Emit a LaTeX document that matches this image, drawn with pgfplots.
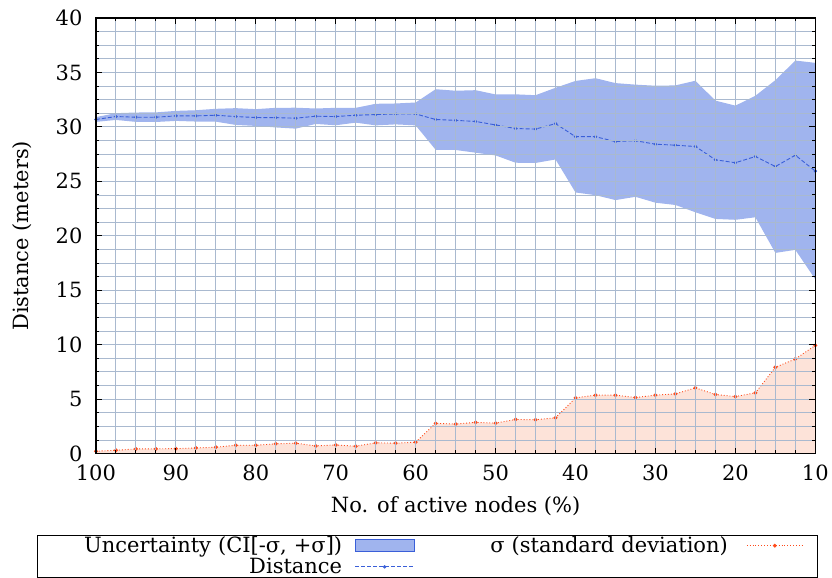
\documentclass[border=0pt]{standalone}
\usepackage{fontspec}
\setmainfont{DejaVu Serif}
\usepackage{pgfplots}
\usepackage{pgfplotstable}
\usepgfplotslibrary{fillbetween}
\pgfplotsset{compat=1.18}
\definecolor{bandblue}{HTML}{A0B4EE}
\definecolor{distblue}{HTML}{3A5FD8}
\definecolor{sigred}{HTML}{FF4A1A}
\definecolor{sigfill}{HTML}{FDE3D9}
\definecolor{gridc}{HTML}{A9B9CF}
\newcommand\myfont{\fontsize{21bp}{24bp}\selectfont}

\pgfplotstableread{
x dist sigma upper lower
100 30.68 0.22 30.90 30.46
97.5 30.95 0.31 31.26 30.64
95 30.89 0.43 31.32 30.46
92.5 30.89 0.44 31.33 30.45
90 31.01 0.46 31.47 30.55
87.5 31.01 0.52 31.53 30.49
85 31.07 0.59 31.66 30.48
82.5 30.95 0.77 31.72 30.18
80 30.86 0.77 31.63 30.09
77.5 30.85 0.90 31.75 29.95
75 30.80 0.96 31.76 29.84
72.5 30.98 0.71 31.69 30.27
70 30.95 0.80 31.75 30.15
67.5 31.07 0.68 31.75 30.39
65 31.13 0.99 32.12 30.14
62.5 31.19 0.96 32.15 30.23
60 31.19 1.05 32.24 30.14
57.5 30.68 2.78 33.46 27.90
55 30.60 2.72 33.32 27.88
52.5 30.50 2.87 33.37 27.63
50 30.18 2.80 32.98 27.38
47.5 29.85 3.14 32.99 26.71
45 29.80 3.11 32.91 26.69
42.5 30.30 3.29 33.59 27.01
40 29.10 5.12 34.22 23.98
37.5 29.10 5.37 34.47 23.73
35 28.65 5.37 34.02 23.28
32.5 28.73 5.15 33.88 23.58
30 28.41 5.37 33.78 23.04
27.5 28.32 5.49 33.81 22.83
25 28.20 6.04 34.24 22.16
22.5 26.98 5.43 32.41 21.55
20 26.71 5.24 31.95 21.47
17.5 27.28 5.58 32.86 21.70
15 26.36 7.93 34.29 18.43
12.5 27.40 8.69 36.09 18.71
10 25.94 9.94 35.88 16.00
}\data

\begin{document}
\begin{tikzpicture}
\begin{axis}[
  at={(0,0)}, anchor=south west,
  scale only axis, width=720bp, height=436bp,
  x dir=reverse,
  xmin=10, xmax=100, ymin=0, ymax=40,
  xtick={10,20,...,100}, ytick={0,5,...,40},
  minor x tick num=3, minor y tick num=3,
  grid=both,
  major grid style={gridc, line width=0.9bp},
  minor grid style={gridc, line width=0.9bp},
  axis on top,
  axis line style={black, line width=1.2bp},
  tick style={black, line width=1bp},
  major tick length=6bp, minor tick length=3.5bp,
  /pgf/number format/assume math mode=true,
  tick label style={font=\myfont},
  xticklabel style={yshift=-8bp},
  yticklabel style={xshift=-10bp},
  xlabel={No. of active nodes (\%)},
  ylabel={Distance (meters)},
  every axis y label/.style={at={(axis description cs:-0.1028,0.5)}, rotate=90, anchor=center, font=\myfont},
  every axis x label/.style={at={(axis description cs:0.5,-0.1216)}, anchor=center, font=\myfont},
  legend columns=2,
  legend plot pos=right,
  legend style={at={(-0.0819,-0.1858)}, anchor=north west, draw=black, line width=0.8bp,
    font=\myfont, inner xsep=2bp, inner ysep=1bp, column sep=0bp, row sep=2bp,
    nodes={text width=300bp, align=right, inner xsep=3bp, inner ysep=1bp}},
]
\addplot[draw=none, fill=sigfill, forget plot] table[x=x,y=sigma]{\data} \closedcycle;
\addplot[name path=up, draw=none, forget plot] table[x=x,y=upper]{\data};
\addplot[name path=lo, draw=none, forget plot] table[x=x,y=lower]{\data};
\addplot[fill=bandblue, draw=none, forget plot] fill between[of=up and lo];
\addplot[distblue, line width=0.9bp, dash pattern=on 4bp off 2bp, mark=*, mark size=1.2bp,
  mark options={solid}, forget plot] table[x=x,y=dist]{\data};
\addplot[sigred, line width=0.9bp, dotted, mark=*, mark size=1.5bp,
  mark options={solid}, forget plot] table[x=x,y=sigma]{\data};

\addlegendimage{legend image code/.code={\path[draw=none,fill=none] (-10bp,0bp) -- (70bp,0bp); \draw[fill=bandblue, draw=distblue, line width=0.8bp] (0bp,-6bp) rectangle (59bp,6bp);}}
\addlegendentry{Uncertainty (CI[-σ, +σ])}
\addlegendimage{legend image code/.code={\path[draw=none,fill=none] (-16bp,0bp) -- (69bp,0bp); \draw[sigred, line width=0.9bp, dotted] (0bp,0bp) -- (55bp,0bp); \fill[sigred] (28bp,0bp) circle (1.5bp);}}
\addlegendentry{σ (standard deviation)}
\addlegendimage{legend image code/.code={\path[draw=none,fill=none] (-10bp,0bp) -- (70bp,0bp); \draw[distblue, line width=0.9bp, dash pattern=on 4bp off 2bp] (0bp,0bp) -- (59bp,0bp); \fill[distblue] (29.5bp,0bp) circle (1.2bp);}}
\addlegendentry{Distance}
\end{axis}
\path (-96bp,-124bp) rectangle (736bp,454bp);
\end{tikzpicture}
\end{document}
